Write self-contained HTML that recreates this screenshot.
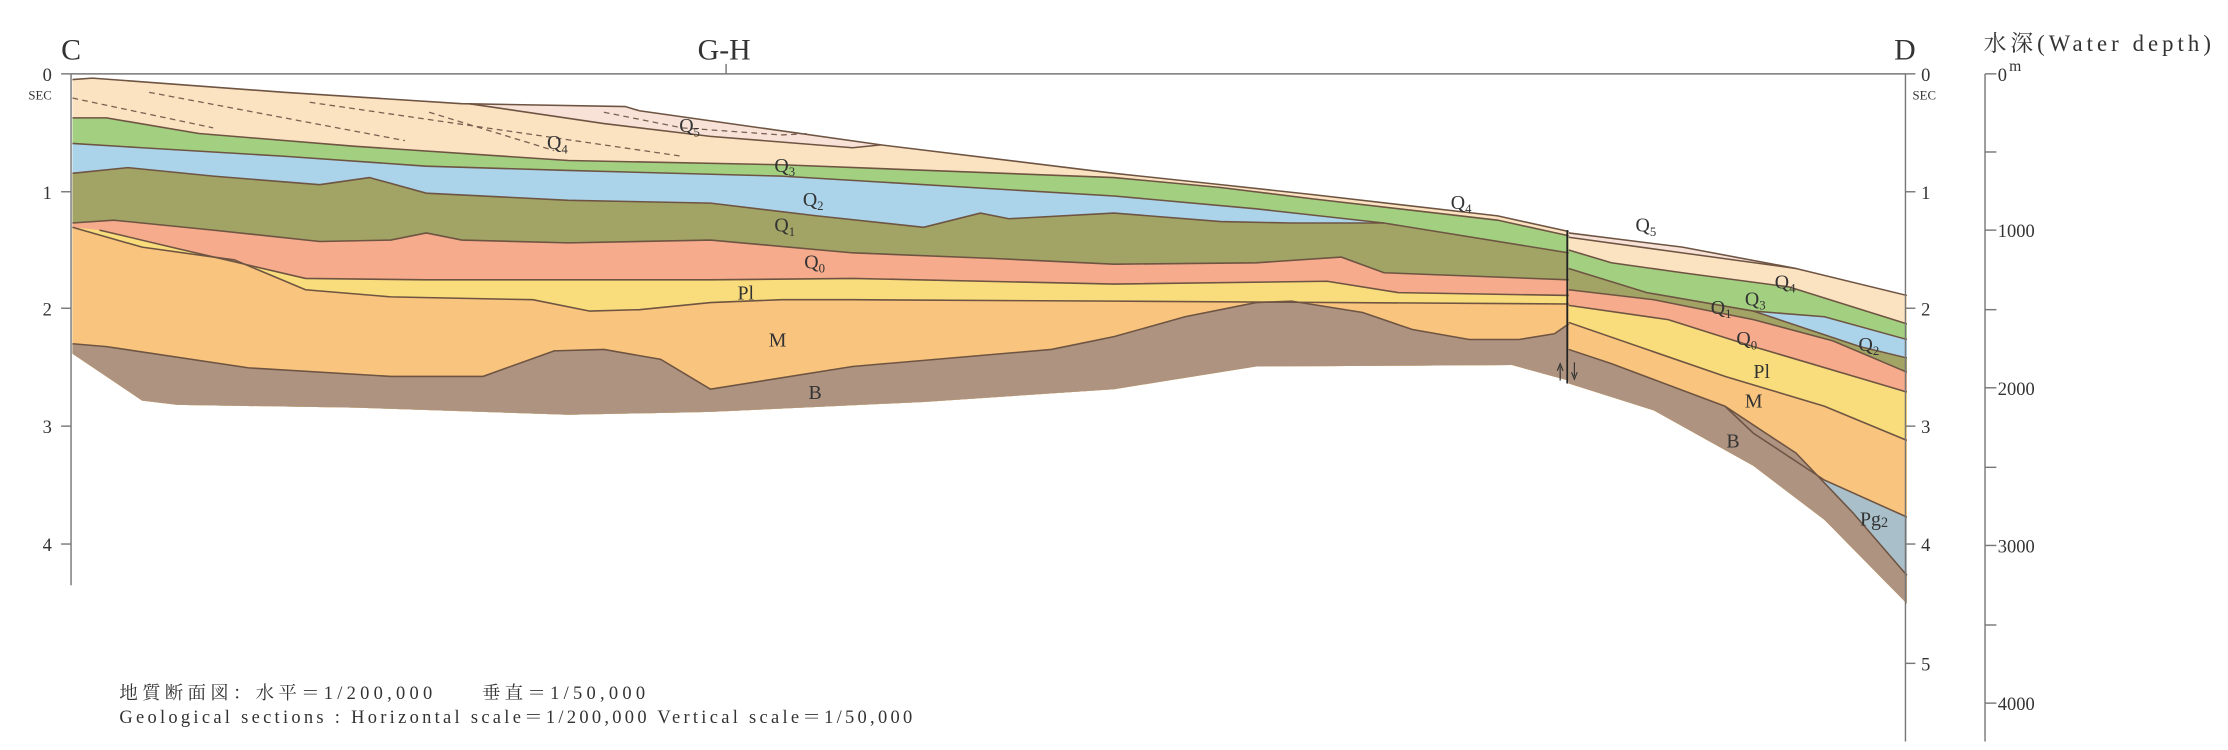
<!DOCTYPE html>
<html><head><meta charset="utf-8"><style>
html,body{margin:0;padding:0;background:#fff;}
svg{display:block;}
text{font-family:"Liberation Serif","Noto Serif CJK SC",serif;fill:#333;}
</style></head><body>
<svg width="2228" height="750" viewBox="0 0 1568 528" preserveAspectRatio="none">
<g stroke="none">
<!-- LEFT PART -->
<path fill="#fbe2c0" d="M51,56 65,55 200,65 325,73 440,75 450,78 620,102 784,122 859,130 924,137 1054,152 1104,163 L1104,268 1064,257 884,258 784,274 650,283 500,290 400,292 250,287 125,285 100,282 51,249Z"/>
<path fill="#f8e2d8" d="M325,73 440,75 450,78 620,102 600,104 500,96 425,87 330,73Z"/>
<path fill="#a3cf80" d="M51,83 75,83 140,94 250,103 400,113 550,116 784,125 859,132 924,140 1054,155 1104,166 L1104,268 1064,257 884,258 784,274 650,283 500,290 400,292 250,287 125,285 100,282 51,249Z"/>
<path fill="#abd3ea" d="M51,101 100,104 200,110 300,117 400,120 550,124 784,138 884,147 974,157 1104,178 L1104,268 1064,257 884,258 784,274 650,283 500,290 400,292 250,287 125,285 100,282 51,249Z"/>
<path fill="#a2a465" d="M51,122 90,118 150,124 225,130 260,125 300,136 400,141 500,143 575,152 650,160 690,150 710,154 784,150 859,156 909,157 974,157 1104,178 L1104,268 1064,257 884,258 784,274 650,283 500,290 400,292 250,287 125,285 100,282 51,249Z"/>
<path fill="#f5ab8c" d="M51,157 80,155 150,162 225,170 275,169 300,164 325,169 400,171 500,169 600,178 700,182 784,186 884,185 944,181 974,192 1104,197 L1104,268 1064,257 884,258 784,274 650,283 500,290 400,292 250,287 125,285 100,282 51,249Z"/>
<path fill="#f9dd7c" d="M51,160 70,162 125,175 215,196 300,197 400,197 500,197 600,196 784,200 934,198 984,206 1104,208 L1104,268 1064,257 884,258 784,274 650,283 500,290 400,292 250,287 125,285 100,282 51,249Z"/>
<path fill="#f9c47d" d="M51,160 100,174 165,183 215,204 275,209 375,211 415,219 450,218 500,213 550,211 600,211 784,212 1104,214 L1104,268 1064,257 884,258 784,274 650,283 500,290 400,292 250,287 125,285 100,282 51,249Z"/>
<path fill="#ae9480" d="M51,242 75,244 175,259 275,265 340,265 390,247 425,246 465,253 500,274 600,258 740,246 784,237 834,223 884,213 909,212 959,220 994,232 1034,239 1069,239 1094,235 1104,228 L1104,268 1064,257 884,258 784,274 650,283 500,290 400,292 250,287 125,285 100,282 51,249Z"/>
<!-- RIGHT PART -->
<path fill="#fbe2c0" d="M1104,164 1184,174 1264,189 1342,208 L1342,425 1284,366 1234,328 1164,289 1104,270Z"/>
<path fill="#f8e2d8" d="M1104,164 1184,174 1264,189 1184,178 1104,167Z"/>
<path fill="#a3cf80" d="M1104,176 1134,185 1184,192 1259,202 1342,228 L1342,425 1284,366 1234,328 1164,289 1104,270Z"/>
<path fill="#a2a465" d="M1104,189 1159,206 1234,219 1284,223 1342,239 L1342,425 1284,366 1234,328 1164,289 1104,270Z"/>
<path fill="#abd3ea" d="M1234,219 1284,223 1342,239 1342,252 1309,244Z"/>
<path fill="#f5ab8c" d="M1104,204 1164,211 1234,225 1290,240 1342,262 L1342,425 1284,366 1234,328 1164,289 1104,270Z"/>
<path fill="#f9dd7c" d="M1104,215 1174,225 1234,244 1342,276 L1342,425 1284,366 1234,328 1164,289 1104,270Z"/>
<path fill="#f9c47d" d="M1104,227 1214,265 1284,286 1342,310 L1342,425 1284,366 1234,328 1164,289 1104,270Z"/>
<path fill="#a9bfc9" d="M1214,286 1234,305 1284,338 1342,364 1342,405 1304,361 1264,319Z"/>
<path fill="#ae9480" d="M1104,246 1134,256 1214,286 1264,319 1304,361 1342,405 1342,425 1284,366 1234,328 1164,289 1104,270Z"/>
</g>
<g fill="none" stroke="#6e5442" stroke-width="1.1">
<polyline points="51,56 65,55 200,65 325,73 440,75 450,78 620,102 784,122 859,130 924,137 1054,152 1104,163"/>
<polyline points="330,73 425,87 500,96 600,104 620,102"/>
<polyline points="51,83 75,83 140,94 250,103 400,113 550,116 784,125 859,132 924,140 1054,155 1104,166"/>
<polyline points="51,101 100,104 200,110 300,117 400,120 550,124 784,138 884,147 974,157 1104,178"/>
<polyline points="51,122 90,118 150,124 225,130 260,125 300,136 400,141 500,143 575,152 650,160 690,150 710,154 784,150 859,156 909,157 974,157"/>
<polyline points="51,157 80,155 150,162 225,170 275,169 300,164 325,169 400,171 500,169 600,178 700,182 784,186 884,185 944,181 974,192 1104,197"/>
<polyline points="70,162 125,175 215,196 300,197 400,197 500,197 600,196 784,200 934,198 984,206 1104,208"/>
<polyline points="51,160 100,174 165,183 215,204 275,209 375,211 415,219 450,218 500,213 550,211 600,211 784,212 1104,214"/>
<polyline points="51,242 75,244 175,259 275,265 340,265 390,247 425,246 465,253 500,274 600,258 740,246 784,237 834,223 884,213 909,212 959,220 994,232 1034,239 1069,239 1094,235 1104,228"/>
<polyline points="1104,164 1184,174 1264,189 1342,208"/>
<polyline points="1104,167 1184,178 1264,189"/>
<polyline points="1104,176 1134,185 1184,192 1259,202 1342,228"/>
<polyline points="1104,189 1159,206 1234,219 1284,223 1342,239"/>
<polyline points="1234,219 1309,244 1342,252"/>
<polyline points="1104,204 1164,211 1234,225 1290,240 1342,262"/>
<polyline points="1104,215 1174,225 1234,244 1342,276"/>
<polyline points="1104,227 1214,265 1284,286 1342,310"/>
<polyline points="1214,286 1234,305 1284,338 1342,364"/>
<polyline points="1104,246 1134,256 1214,286 1264,319 1304,361 1342,405"/>
</g>
<g fill="none" stroke="#7a6050" stroke-width="0.9" stroke-dasharray="4,3">
<polyline points="51,69 150,90"/>
<polyline points="105,65 285,99"/>
<polyline points="218,72 480,110"/>
<polyline points="302,79 390,106"/>
<polyline points="425,79 480,90 550,95 570,94"/>
</g>
<!-- fault -->
<line x1="1103" y1="162" x2="1103" y2="270" stroke="#222" stroke-width="1.3"/>
<path d="M1098,258 L1098,268 M1096,261 L1098,256 L1100,261 M1108,255 L1108,265 M1106,262 L1108,267 L1110,262" stroke="#333" stroke-width="0.8" fill="none"/>
<!-- axes -->
<g stroke="#777" stroke-width="1" fill="none">
<line x1="50" y1="52" x2="1341" y2="52"/>
<line x1="511" y1="45" x2="511" y2="52"/>
<line x1="50" y1="52" x2="50" y2="412"/>
<line x1="43" y1="52" x2="50" y2="52"/><line x1="43" y1="135" x2="50" y2="135"/><line x1="43" y1="217" x2="50" y2="217"/><line x1="43" y1="300" x2="50" y2="300"/><line x1="43" y1="383" x2="50" y2="383"/>
<line x1="1341" y1="52" x2="1341" y2="522"/>
<line x1="1341" y1="52" x2="1348" y2="52"/><line x1="1341" y1="135" x2="1348" y2="135"/><line x1="1341" y1="217" x2="1348" y2="217"/><line x1="1341" y1="300" x2="1348" y2="300"/><line x1="1341" y1="383" x2="1348" y2="383"/><line x1="1341" y1="467" x2="1348" y2="467"/>
<line x1="1397" y1="52" x2="1397" y2="522"/>
<line x1="1397" y1="52" x2="1405" y2="52"/><line x1="1397" y1="107" x2="1405" y2="107"/><line x1="1397" y1="162" x2="1405" y2="162"/><line x1="1397" y1="218" x2="1405" y2="218"/><line x1="1397" y1="273" x2="1405" y2="273"/><line x1="1397" y1="329" x2="1405" y2="329"/><line x1="1397" y1="384" x2="1405" y2="384"/><line x1="1397" y1="440" x2="1405" y2="440"/><line x1="1397" y1="495" x2="1405" y2="495"/>
</g>
<g font-size="21">
<text x="43" y="42">C</text>
<text x="491" y="42">G-H</text>
<text x="1333" y="42">D</text>
</g>
<g font-size="13">
<text x="30" y="57">0</text><text x="30" y="140">1</text><text x="30" y="222">2</text><text x="30" y="305">3</text><text x="30" y="388">4</text>
<text x="1352" y="57">0</text><text x="1352" y="140">1</text><text x="1352" y="222">2</text><text x="1352" y="305">3</text><text x="1352" y="388">4</text><text x="1352" y="472">5</text>
<text x="1406" y="57">0</text><text x="1414" y="50" font-size="11">m</text>
<text x="1406" y="167">1000</text><text x="1406" y="278">2000</text><text x="1406" y="389">3000</text><text x="1406" y="500">4000</text>
</g>
<text x="20" y="70" font-size="9">SEC</text>
<text x="1346" y="70" font-size="9">SEC</text>
<text x="1396" y="36" font-size="16" textLength="160">水深(Water depth)</text>
<g font-size="14">
<text x="478" y="93">Q<tspan font-size="9" dy="3">5</tspan></text>
<text x="385" y="105">Q<tspan font-size="9" dy="3">4</tspan></text>
<text x="545" y="121">Q<tspan font-size="9" dy="3">3</tspan></text>
<text x="565" y="145">Q<tspan font-size="9" dy="3">2</tspan></text>
<text x="545" y="163">Q<tspan font-size="9" dy="3">1</tspan></text>
<text x="566" y="189">Q<tspan font-size="9" dy="3">0</tspan></text>
<text x="519" y="211">Pl</text>
<text x="541" y="244">M</text>
<text x="569" y="281">B</text>
<text x="1021" y="147">Q<tspan font-size="9" dy="3">4</tspan></text>
<text x="1151" y="163">Q<tspan font-size="9" dy="3">5</tspan></text>
<text x="1249" y="203">Q<tspan font-size="9" dy="3">4</tspan></text>
<text x="1228" y="215">Q<tspan font-size="9" dy="3">3</tspan></text>
<text x="1204" y="221">Q<tspan font-size="9" dy="3">1</tspan></text>
<text x="1222" y="243">Q<tspan font-size="9" dy="3">0</tspan></text>
<text x="1234" y="266">Pl</text>
<text x="1228" y="287">M</text>
<text x="1215" y="315">B</text>
<text x="1308" y="247">Q<tspan font-size="9" dy="3">2</tspan></text>
<text x="1309" y="370">Pg<tspan font-size="10" dy="1">2</tspan></text>
</g>
<text x="84" y="492" font-size="13" textLength="370">地質断面図：水平＝1/200,000　　垂直＝1/50,000</text>
<text x="84" y="509" font-size="13" textLength="558">Geological sections : Horizontal scale＝1/200,000  Vertical scale＝1/50,000</text>
</svg>
</body></html>
